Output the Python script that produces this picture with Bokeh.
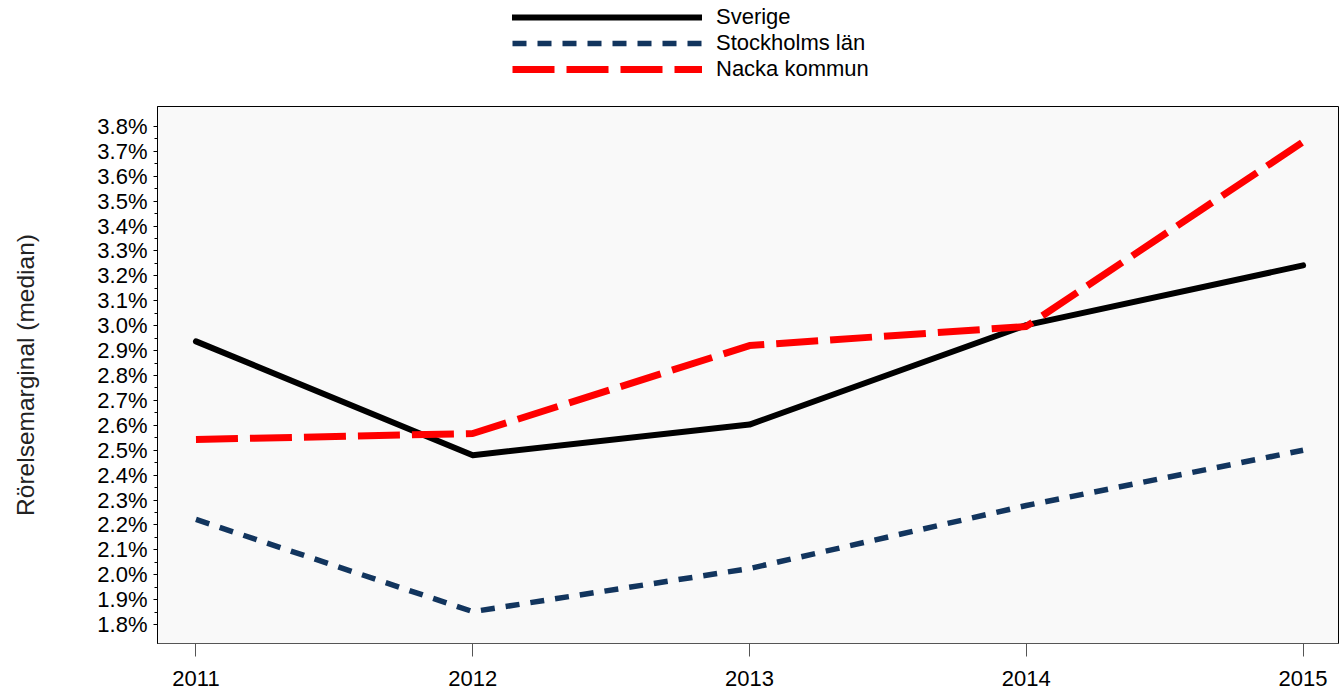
from bokeh.plotting import figure
from bokeh.layouts import column
from bokeh.models import (FixedTicker, PrintfTickFormatter, Range1d, Legend,
                          LegendItem, ColumnDataSource)
from bokeh.embed import file_html
from bokeh.resources import INLINE

years = [2011, 2012, 2013, 2014, 2015]
sverige = [2.937, 2.480, 2.603, 3.002, 3.242]
stockholm = [2.222, 1.852, 2.025, 2.278, 2.500]
nacka = [2.543, 2.567, 2.920, 2.997, 3.738]

y_ticks = [1.8, 1.9, 2.0, 2.1, 2.2, 2.3, 2.4, 2.5, 2.6, 2.7, 2.8, 2.9,
           3.0, 3.1, 3.2, 3.3, 3.4, 3.5, 3.6, 3.7, 3.8]
y_label = "Rörelsemarginal (median)"
series_names = ["Sverige", "Stockholms län", "Nacka kommun"]

FONT = "Liberation Sans"

styles = [
    dict(line_color="black", line_width=6, line_cap="round", line_join="round"),
    dict(line_color="#12355e", line_width=5.5, line_dash="14 11", line_join="round"),
    dict(line_color="#ff0000", line_width=7, line_dash="42 12", line_join="round"),
]

W = 1339

# ---------------- main chart ----------------
p = figure(width=W, height=587, output_backend="svg", toolbar_location=None,
           x_range=Range1d(2010.861, 2015.128), y_range=Range1d(1.724, 3.88),
           min_border_left=157, min_border_right=1, min_border_top=1,
           min_border_bottom=49)

p.background_fill_color = "#f9f9f9"
p.border_fill_color = "white"
p.outline_line_color = "black"
p.outline_line_width = 1
p.grid.visible = False

p.xaxis.ticker = FixedTicker(ticks=years)
p.xaxis.major_label_overrides = {y: str(y) for y in years}
p.xaxis.axis_line_color = "#555555"
p.xaxis.major_tick_line_color = "#555555"
p.xaxis.major_tick_in = 0
p.xaxis.major_tick_out = 13
p.xaxis.minor_tick_line_color = None
p.xaxis.major_label_standoff = 14
p.xaxis.major_label_text_font = FONT
p.xaxis.major_label_text_font_size = "22px"
p.xaxis.major_label_text_color = "black"

minor = [round(t + 0.05, 2) for t in y_ticks[:-1]]
p.yaxis.ticker = FixedTicker(ticks=y_ticks, minor_ticks=minor)
p.yaxis.formatter = PrintfTickFormatter(format="%.1f%%")
p.yaxis.axis_line_color = "black"
p.yaxis.major_tick_line_color = "black"
p.yaxis.minor_tick_line_color = "black"
p.yaxis.major_tick_in = 0
p.yaxis.major_tick_out = 4
p.yaxis.minor_tick_in = 0
p.yaxis.minor_tick_out = 3
p.yaxis.major_label_standoff = 6
p.yaxis.major_label_text_font = FONT
p.yaxis.major_label_text_font_size = "22px"
p.yaxis.major_label_text_color = "black"
p.yaxis.axis_label = y_label
p.yaxis.axis_label_text_font = FONT
p.yaxis.axis_label_text_font_size = "24.5px"
p.yaxis.axis_label_text_font_style = "normal"
p.yaxis.axis_label_text_color = "#222222"
p.yaxis.axis_label_standoff = 55

src = ColumnDataSource(dict(x=years, sv=sverige, st=stockholm, na=nacka))
p.line("x", "st", source=src, **styles[1])
p.line("x", "sv", source=src, **styles[0])
p.line("x", "na", source=src, **styles[2])

# ---------------- legend strip ----------------
# the strip's ranges are set so its series renderers sit off-screen; only the
# legend (which samples their styles) is visible.
pl = figure(width=W, height=105, output_backend="svg", toolbar_location=None,
            x_range=Range1d(0, 1), y_range=Range1d(0, 1),
            x_axis_location=None, y_axis_location=None,
            min_border_left=0, min_border_right=0, min_border_top=0,
            min_border_bottom=0)
pl.outline_line_color = None
pl.grid.visible = False
pl.background_fill_color = "white"
lsrc = ColumnDataSource(dict(x=years, sv=sverige, st=stockholm, na=nacka))
leg_r = [pl.line("x", "sv", source=lsrc, **styles[0]),
         pl.line("x", "st", source=lsrc, **styles[1]),
         pl.line("x", "na", source=lsrc, **styles[2])]

legend = Legend(items=[LegendItem(label=n, renderers=[r])
                       for n, r in zip(series_names, leg_r)],
                location=(355, 23), orientation="vertical")
legend.background_fill_alpha = 0
legend.border_line_alpha = 0
legend.padding = 0
legend.margin = 0
legend.spacing = 0
legend.glyph_width = 190
legend.glyph_height = 26
legend.label_height = 26
legend.label_standoff = 14
legend.label_text_font = FONT
legend.label_text_font_size = "22px"
legend.label_text_color = "black"
pl.add_layout(legend, "center")

layout = column(pl, p, spacing=0)
open("out.html", "w").write(file_html(layout, INLINE))
